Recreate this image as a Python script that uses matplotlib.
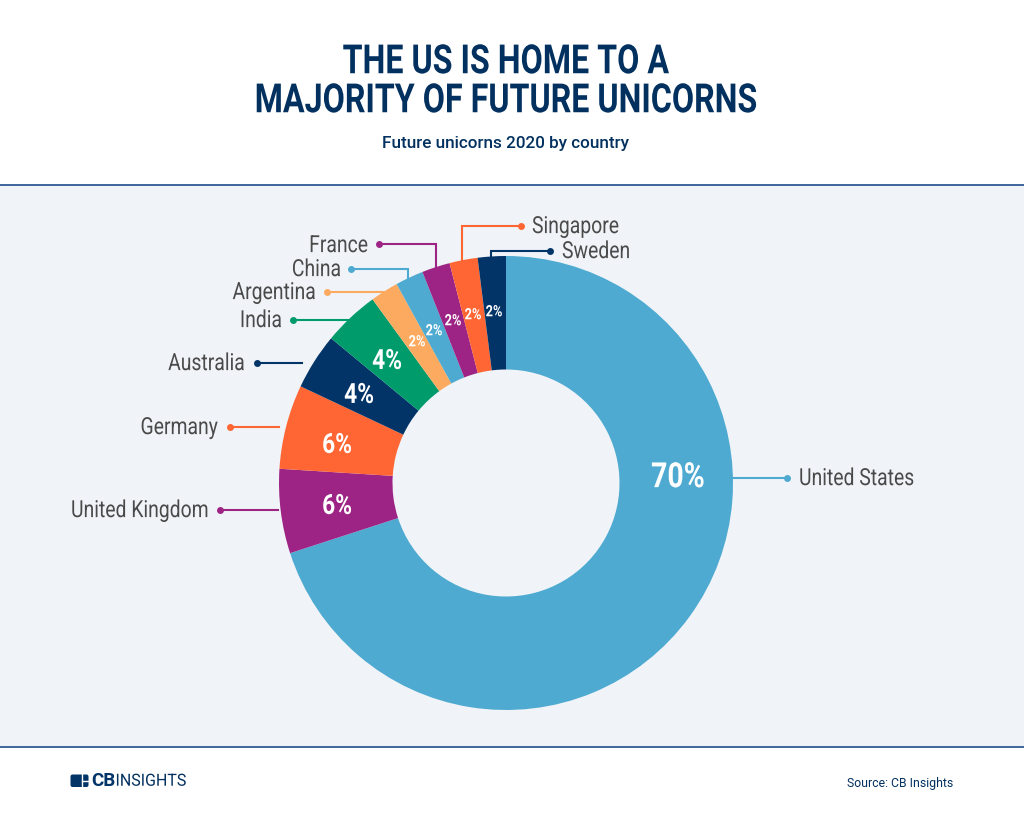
import matplotlib
matplotlib.use("Agg")
import matplotlib.pyplot as plt
from matplotlib.patches import Rectangle, FancyBboxPatch
from matplotlib.patheffects import AbstractPathEffect
from matplotlib.transforms import Affine2D

W, H = 1024, 815
countries = ["United States", "United Kingdom", "Germany", "Australia", "India",
             "Argentina", "China", "France", "Singapore", "Sweden"]
shares = [70, 6, 6, 4, 4, 2, 2, 2, 2, 2]
colors = ["#4EAAD1", "#9D2484", "#FF6633", "#023468", "#009B6B",
          "#FCAA60", "#4EAAD1", "#9D2484", "#FF6633", "#023468"]
pct_labels = [f"{s}%" for s in shares]
pct_pos = [(678, 477), (337, 505), (337, 444), (359, 394), (387, 360),
           (417, 341), (434, 330), (453, 320), (473, 314), (494, 311)]
pct_size = [20.5, 16.4, 16.4, 16.4, 16.4, 9.2, 9.2, 9.2, 9.2, 9.2]
leaders = [
    [(733, 478), (787, 478)],
    [(278, 510), (220, 510)],
    [(279, 427), (230, 427)],
    [(302, 363), (257, 363)],
    [(350, 320), (292.5, 320)],
    [(385, 292), (327, 292)],
    [(408, 278), (408, 269), (351, 269)],
    [(436, 267), (436, 244), (379, 244)],
    [(461.5, 260), (461.5, 225.7), (521, 225.7)],
    [(491, 257), (491, 250.5), (550, 250.5)],
]
label_pos = [(799, 478, "left"), (209, 510, "right"), (218, 427, "right"), (245, 363, "right"),
             (282, 320, "right"), (316, 292, "right"), (341, 269, "right"), (368, 245, "right"),
             (532, 226, "left"), (562, 251, "left")]

FONT = ["Roboto", "DejaVu Sans"]
NAVY = "#02305F"


class Tall(AbstractPathEffect):
    """Stretch the glyphs vertically about a fixed y, to imitate a condensed face."""

    def __init__(self, sy, y0):
        super().__init__()
        self.sy, self.y0 = sy, y0

    def draw_path(self, renderer, gc, tpath, affine, rgbFace=None):
        t = affine + Affine2D().translate(0, -self.y0).scale(1, self.sy).translate(0, self.y0)
        renderer.draw_path(gc, tpath, t, rgbFace)


fig = plt.figure(figsize=(W / 100, H / 100), dpi=100, facecolor="white")
bg = fig.add_axes([0, 0, 1, 1])
bg.set_xlim(0, W)
bg.set_ylim(H, 0)
bg.axis("off")

bg.add_patch(Rectangle((0, 185), W, 561, facecolor="#F0F4F8", edgecolor="none", zorder=0))
bg.plot([0, W], [184.5, 184.5], color="#2F5A94", lw=1.3, zorder=1)
bg.plot([0, W], [746.5, 746.5], color="#2F5A94", lw=1.3, zorder=1)

cx, cy, R = 506, 483, 227
ax = fig.add_axes([(cx - R) / W, 1 - (cy + R) / H, 2 * R / W, 2 * R / H])
ax.pie(shares, colors=colors, startangle=90, counterclock=False, radius=1,
       wedgeprops=dict(width=0.5, linewidth=0))
ax.set_xlim(-1, 1)
ax.set_ylim(-1, 1)
ax.set_aspect("equal")
ax.patch.set_alpha(0)

fg = fig.add_axes([0, 0, 1, 1])
fg.set_xlim(0, W)
fg.set_ylim(H, 0)
fg.axis("off")


def ctext(x, y, s, sy=1.22, **kw):
    return fg.text(x, y, s, family=FONT, va="center",
                   path_effects=[Tall(sy, H - y)], **kw)


for name, col, pts, (lx, ly, ha) in zip(countries, colors, leaders, label_pos):
    xs, ys = zip(*pts)
    fg.plot(xs, ys, color=col, lw=1.5, solid_joinstyle="miter", zorder=1)
    fg.plot(xs[-1], ys[-1], "o", color=col, ms=5, mew=0, zorder=2)
    ctext(lx, ly + 1, name, ha=ha, fontsize=13.94, color="#4A4A4A")

for txt, (x, y), s in zip(pct_labels, pct_pos, pct_size):
    ctext(x, y + 1, txt, ha="center", fontsize=s, color="white", fontweight="bold")

ctext(506, 62, "THE US IS HOME TO A", sy=1.25, ha="center", fontsize=23.2,
      fontweight="bold", color=NAVY)
ctext(506, 101, "MAJORITY OF FUTURE UNICORNS", sy=1.25, ha="center", fontsize=23.2,
      fontweight="bold", color=NAVY)
fg.text(505.5, 143.5, "Future unicorns 2020 by country", ha="center", va="center", fontsize=12.3,
        fontweight="medium", color=NAVY, family=FONT)
fg.text(953, 783, "Source: CB Insights", ha="right", va="center", fontsize=8.8,
        color=NAVY, family=FONT)

# logo
fg.add_patch(FancyBboxPatch((70.5, 774.5), 18, 12.5, boxstyle="round,pad=0,rounding_size=2",
                            facecolor="#023468", edgecolor="none"))
fg.plot([82, 89], [781, 781], color="white", lw=1)
fg.plot([82, 82], [774, 788], color="white", lw=1)
fg.text(91.5, 781, "CB", ha="left", va="center", fontsize=13.5, fontweight="bold",
        color="#023468", family=FONT)
ctext(115.5, 781, "INSIGHTS", sy=1.05, ha="left", fontsize=11.5, color=NAVY)

fig.savefig("out.png", dpi=100, facecolor="white")
